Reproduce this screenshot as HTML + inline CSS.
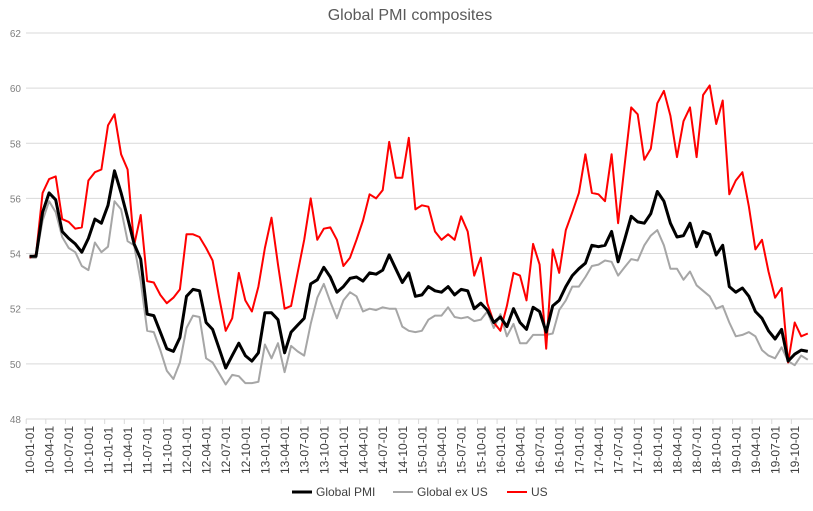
<!DOCTYPE html>
<html><head><meta charset="utf-8"><style>
body{margin:0;background:#fff;width:813px;height:506px;overflow:hidden;font-family:"Liberation Sans",sans-serif}
</style></head><body>
<svg id="chart" width="813" height="506" xmlns="http://www.w3.org/2000/svg">
<text x="410" y="20" text-anchor="middle" font-size="16" fill="#595959" font-family="Liberation Sans, sans-serif">Global PMI composites</text>
<g id="grid"></g><g id="xaxis"></g><g id="series"></g>
<g font-size="12" fill="#404040">
<g><line x1="292" y1="492" x2="312" y2="492" stroke="#000" stroke-width="3"/><text x="316" y="496">Global PMI</text></g>
<g><line x1="393" y1="492" x2="413" y2="492" stroke="#a6a6a6" stroke-width="2"/><text x="417" y="496">Global ex US</text></g>
<g><line x1="507" y1="492" x2="527" y2="492" stroke="#f00" stroke-width="2"/><text x="531" y="496">US</text></g>
</g>
</svg>
<script>
const yTicks=[48,50,52,54,56,58,60,62];
const usValues=[53.85,53.95,56.2,56.7,56.8,55.25,55.15,54.9,54.95,56.65,56.95,57.05,58.65,59.05,57.6,57.05,54.3,55.4,53.0,52.95,52.5,52.2,52.4,52.7,54.7,54.7,54.6,54.2,53.75,52.4,51.2,51.65,53.3,52.3,51.9,52.8,54.2,55.3,53.6,52.0,52.1,53.3,54.5,56.0,54.5,54.9,54.95,54.5,53.55,53.85,54.5,55.2,56.15,56.0,56.3,58.05,56.75,56.75,58.2,55.6,55.75,55.7,54.8,54.5,54.7,54.5,55.35,54.8,53.2,53.85,52.2,51.5,51.2,52.1,53.3,53.2,52.3,54.35,53.6,50.55,54.15,53.3,54.85,55.5,56.2,57.6,56.2,56.15,55.9,57.6,55.1,57.2,59.3,59.05,57.4,57.8,59.45,59.9,59.0,57.5,58.8,59.3,57.5,59.75,60.1,58.7,59.55,56.15,56.65,56.95,55.7,54.15,54.5,53.35,52.4,52.75,50.05,51.5,51.0,51.1];
const globalValues=[53.9,53.9,55.5,56.2,55.95,54.8,54.55,54.35,54.05,54.55,55.25,55.1,55.75,57.0,56.2,55.3,54.35,53.8,51.8,51.75,51.15,50.55,50.45,50.95,52.45,52.7,52.65,51.5,51.25,50.55,49.85,50.3,50.75,50.3,50.1,50.4,51.85,51.85,51.6,50.4,51.15,51.4,51.65,52.9,53.05,53.5,53.15,52.6,52.8,53.1,53.15,53.0,53.3,53.25,53.4,53.95,53.45,52.95,53.3,52.45,52.5,52.8,52.65,52.6,52.8,52.5,52.7,52.65,52.0,52.2,51.95,51.5,51.7,51.35,52.0,51.5,51.25,52.05,51.9,51.15,52.1,52.3,52.8,53.2,53.45,53.65,54.3,54.25,54.3,54.8,53.7,54.5,55.35,55.15,55.1,55.45,56.25,55.9,55.1,54.6,54.65,55.1,54.25,54.8,54.7,53.95,54.3,52.8,52.6,52.75,52.45,51.9,51.65,51.2,50.9,51.25,50.1,50.35,50.5,50.45];
const exUsValues=[53.85,53.85,55.2,55.9,55.5,54.6,54.2,54.05,53.55,53.4,54.4,54.05,54.25,55.9,55.6,54.45,54.3,53.0,51.2,51.15,50.5,49.75,49.45,50.05,51.3,51.75,51.7,50.2,50.05,49.65,49.25,49.6,49.55,49.3,49.3,49.35,50.7,50.2,50.75,49.7,50.65,50.45,50.3,51.45,52.4,52.9,52.25,51.65,52.3,52.6,52.45,51.9,52.0,51.95,52.05,52.0,52.0,51.35,51.2,51.15,51.2,51.6,51.75,51.75,52.05,51.7,51.65,51.7,51.55,51.6,51.9,51.3,51.8,51.0,51.45,50.75,50.75,51.05,51.05,51.05,51.1,51.95,52.3,52.8,52.8,53.15,53.55,53.6,53.75,53.7,53.2,53.5,53.8,53.75,54.3,54.65,54.85,54.3,53.45,53.45,53.05,53.35,52.85,52.65,52.45,52.0,52.1,51.5,51.0,51.05,51.15,51.0,50.5,50.3,50.2,50.6,50.1,49.95,50.3,50.15];
const categories=[];
for(let y=10;y<=19;y++)for(let m=1;m<=12;m++)categories.push(y+'-'+String(m).padStart(2,'0')+'-01');
const NS='http://www.w3.org/2000/svg';
const x0=29.5,dx=6.54;
function xs(i){return x0+i*dx;}
function ys(v){return 33+(62-v)*27.57;}
function mk(t,a,p){const e=document.createElementNS(NS,t);for(const k in a)e.setAttribute(k,a[k]);p.appendChild(e);return e;}
const grid=document.getElementById('grid');
yTicks.forEach(v=>{
  const l=mk('line',{x1:26,x2:813,y1:ys(v),y2:ys(v),stroke:'#d9d9d9','stroke-width':1},grid);
  
  
  const t=mk('text',{x:21,y:ys(v)+4,'text-anchor':'end','font-size':10,fill:'#7f7f7f'},grid);
  t.textContent=v;
  
  
});
const xa=document.getElementById('xaxis');
categories.forEach((c,i)=>{
  if(i%3)return;
  const tx=xs(i)-3.3;
  mk('line',{x1:tx,x2:tx,y1:419,y2:424,stroke:'#d9d9d9'},xa);
  const t=mk('text',{transform:`translate(${xs(i)+4.5},${474}) rotate(-90)`,'font-size':12,fill:'#404040'},xa);
  t.textContent=c;
  
  
});
const sg=document.getElementById('series');
[[exUsValues,'#a6a6a6',2,'series-global-ex-us'],[usValues,'#ff0000',2,'series-us'],[globalValues,'#000000',3,'series-global-pmi']].forEach(([d,c,w,n])=>{
  const p=mk('polyline',{points:d.map((v,i)=>xs(i).toFixed(1)+','+ys(v).toFixed(1)).join(' '),fill:'none',stroke:c,'stroke-width':w,'stroke-linejoin':'round'},sg);
  
  
});
</script>
</body></html>
